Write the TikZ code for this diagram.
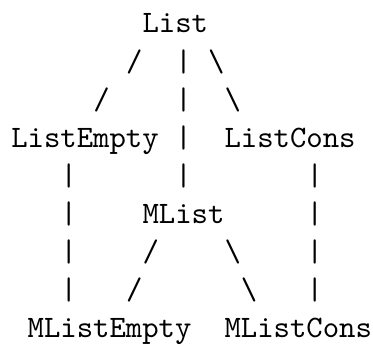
\documentclass[tikz,border=0pt]{standalone}
\begin{document}
\begin{tikzpicture}[x=0.75pt,y=-0.75pt]
  \useasboundingbox (0,0) rectangle (373,346);
  % monospaced character grid
  \def\colw{16.4}\def\colx{11.3}\def\rowh{38}\def\rowy{33}
  % 10pt typewriter design, enlarged
  \tikzset{cell/.style={anchor=base west, inner sep=0pt, outer sep=0pt,
      scale=2.34, font=\fontsize{10}{12}\selectfont\ttfamily}}
  \newcommand\cellat[4]{\node[cell] (#1) at ({\colx+#2*\colw},{\rowy+#3*\rowh}) {#4};}
  % row 0
  \cellat{list}{8}{0}{List}
  % rows 1-2: branches below List
  \cellat{la1}{7}{1}{/}
  \cellat{lb1}{10}{1}{|}
  \cellat{lc1}{12}{1}{\textbackslash}
  \cellat{la2}{5}{2}{/}
  \cellat{lb2}{10}{2}{|}
  \cellat{lc2}{13}{2}{\textbackslash}
  % row 3
  \cellat{listempty}{0}{3}{ListEmpty}
  \cellat{lb3}{10}{3}{|}
  \cellat{listcons}{13}{3}{ListCons}
  % row 4
  \cellat{ea4}{3}{4}{|}
  \cellat{lb4}{10}{4}{|}
  \cellat{ca4}{18}{4}{|}
  % row 5
  \cellat{ea5}{3}{5}{|}
  \cellat{mlist}{8}{5}{MList}
  \cellat{ca5}{18}{5}{|}
  % rows 6-7: branches below MList
  \cellat{ea6}{3}{6}{|}
  \cellat{ma6}{8}{6}{/}
  \cellat{mb6}{13}{6}{\textbackslash}
  \cellat{ca6}{18}{6}{|}
  \cellat{ea7}{3}{7}{|}
  \cellat{ma7}{7}{7}{/}
  \cellat{mb7}{14}{7}{\textbackslash}
  \cellat{ca7}{18}{7}{|}
  % row 8
  \cellat{mlistempty}{1}{8}{MListEmpty}
  \cellat{mlistcons}{13}{8}{MListCons}
\end{tikzpicture}
\end{document}
